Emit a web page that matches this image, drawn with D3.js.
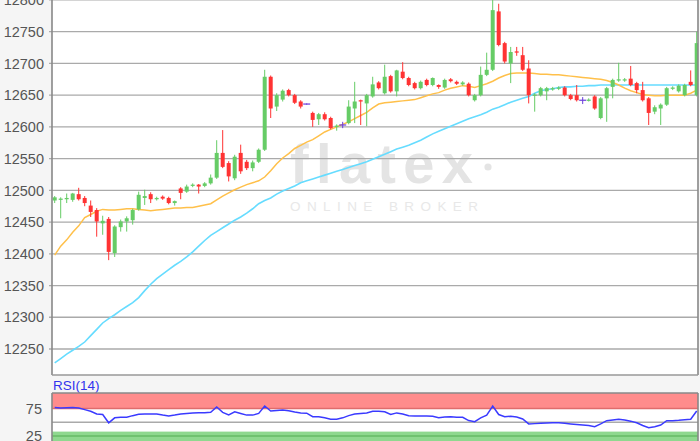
<!DOCTYPE html>
<html>
<head>
<meta charset="utf-8">
<script src="https://cdn.jsdelivr.net/npm/d3@7"></script>
<style>
  body { margin: 0; background: #f5f5f5; }
  svg { display: block; font-family: "Liberation Sans", Arial, sans-serif; }
</style>
</head>
<body>
<script>
// candle data (index = trading interval)
var opens  = [12484,12485,12486,12485,12494,12488,12476,12469,12448,12455,12401,12442,12451,12453,12470,12488,12494,12486,12490,12488,
              12480,12503,12498,12507,12509,12507,12511,12520,12559,12543,12519,12559,12545,12535,12545,12564,12679,12632,12643,12658,
              12650,12640,12636,12622,12612,12620,12614,12600,12603,12606,12629,12642,12637,12648,12670,12653,12680,12656,12687,12677,
              12669,12661,12674,12666,12666,12662,12675,12671,12667,12668,12642,12650,12682,12690,12782,12732,12700,12719,12713,12692,
              12649,12650,12656,12659,12660,12662,12650,12650,12642,12641,12648,12614,12645,12663,12673,12673,12676,12669,12658,12645,
              12624,12629,12635,12660,12656,12650,12671,12650];
var highs  = [12491,12489,12495,12496,12504,12491,12484,12472,12460,12458,12445,12454,12459,12471,12498,12501,12497,12490,12492,12490,
              12484,12505,12509,12511,12510,12513,12525,12579,12595,12546,12556,12572,12548,12547,12566,12690,12681,12653,12659,12660,
              12652,12642,12637,12624,12622,12623,12616,12604,12608,12642,12671,12643,12652,12679,12672,12698,12682,12690,12702,12679,
              12671,12673,12676,12678,12667,12676,12677,12673,12672,12670,12652,12695,12717,12800,12794,12734,12726,12726,12726,12705,
              12653,12663,12663,12663,12664,12664,12652,12666,12647,12645,12650,12647,12663,12676,12701,12677,12696,12671,12671,12647,
              12634,12637,12663,12664,12667,12668,12689,12750];
var lows   = [12480,12456,12480,12482,12484,12475,12458,12427,12430,12390,12395,12435,12435,12446,12468,12477,12480,12484,12485,12478,
              12476,12486,12496,12505,12495,12505,12509,12518,12535,12514,12516,12526,12532,12530,12543,12562,12614,12625,12640,12648,
              12636,12629,12635,12600,12603,12610,12596,12594,12598,12604,12606,12603,12601,12646,12659,12651,12654,12648,12675,12664,
              12659,12659,12664,12664,12660,12660,12670,12666,12665,12648,12640,12648,12680,12688,12727,12700,12669,12712,12688,12637,
              12624,12648,12642,12657,12658,12648,12642,12640,12636,12640,12627,12612,12608,12645,12671,12671,12664,12653,12640,12603,
              12620,12603,12633,12658,12654,12648,12664,12648];
var closes = [12489,12487,12488,12495,12486,12480,12466,12451,12452,12403,12443,12451,12456,12469,12493,12491,12486,12488,12487,12480,
              12483,12496,12506,12509,12506,12511,12520,12559,12537,12522,12553,12530,12535,12544,12564,12679,12629,12650,12657,12650,
              12638,12632,12636,12611,12620,12612,12598,12602,12603,12632,12640,12640,12650,12667,12661,12679,12656,12689,12677,12666,
              12661,12671,12666,12677,12663,12674,12672,12668,12670,12650,12650,12682,12690,12784,12729,12703,12718,12717,12690,12650,
              12651,12661,12661,12661,12662,12650,12644,12642,12642,12643,12629,12645,12661,12674,12675,12675,12666,12658,12642,12622,
              12631,12635,12661,12662,12665,12666,12666,12732];

// moving averages as drawn (orange = short, cyan = long)
var maShort = [12398,12412,12422,12434,12444,12457,12462,12467,12470,12469,12469,12470,12471,12471,12470,12469,12468,12469,12470,12471,
               12472,12472,12473,12473,12475,12477,12479,12485,12491,12496,12501,12505,12509,12512,12515,12521,12531,12542,12551,12558,
               12566,12571,12576,12580,12586,12592,12596,12600,12604,12608,12613,12618,12623,12630,12636,12638,12639,12640,12641,12642,
               12643,12646,12649,12652,12654,12658,12661,12663,12665,12664,12662,12665,12668,12672,12677,12681,12684,12685,12685,12685,
               12684,12683,12683,12682,12682,12681,12680,12679,12678,12677,12676,12675,12673,12670,12666,12661,12657,12654,12651,12650,
               12649,12649,12650,12650,12650,12650,12653,12658];
var maLong  = [12228,12235,12242,12248,12254,12261,12271,12281,12291,12298,12304,12311,12317,12323,12331,12342,12352,12361,12368,12375,
               12382,12388,12395,12403,12412,12421,12429,12435,12441,12447,12453,12458,12464,12471,12479,12484,12488,12494,12499,12503,
               12507,12512,12515,12518,12521,12524,12527,12530,12533,12536,12539,12542,12545,12549,12553,12557,12561,12565,12568,12571,
               12575,12579,12584,12589,12593,12597,12601,12605,12609,12613,12616,12619,12623,12628,12631,12635,12639,12642,12645,12648,
               12653,12657,12659,12660,12662,12663,12663,12664,12664,12665,12665,12666,12666,12666,12666,12666,12666,12666,12666,12666,
               12666,12666,12666,12666,12666,12666,12666,12666];

var rsi = [77,76,76.5,77,76,73,70,65,64,49,58,59,59,62,64.5,65,65,65,63,61.5,
           63,65,66,67,67.4,67.4,68,77.7,68,63.5,69,66,63,63,66,79.5,70.5,71.5,72.3,71,
           68.5,67,66.5,60,60,58,55.4,55.4,58,62,65,66,67,70,70,69,64,67,65,62,
           61.4,61.4,61.4,61,58.3,59.5,60,59,59,53,51,58,63,79.5,64,60,61,59.5,56,47,
           47.5,48,48.5,49,49,48,47,46,45,44,42,47,52.8,54,55.4,54,52,49,44,40,
           42,45,52.8,52.8,53.5,54.5,55.4,70.5];

var priceTicks = [12250,12300,12350,12400,12450,12500,12550,12600,12650,12700,12750,12800];
var rsiTicks = [25, 75];
var rsiGrid = [50];

var width = 700, height = 441;
var plot = {left: 52, right: 698, top: 0, bottom: 375};
var sub  = {top: 393, bottom: 441};

var svg = d3.select("body").append("svg")
  .attr("width", width)
  .attr("height", height);

var x  = d3.scalePoint().domain(d3.range(closes.length)).range([54.7, 696.7]);
var y  = d3.scaleLinear().domain([12250, 12750]).range([349, 31.7]);
var yR = d3.scaleLinear().domain([25, 75]).range([436, 408.5]);

var defs = svg.append("defs");
defs.append("clipPath").attr("id", "clipMain").append("rect")
  .attr("x", plot.left).attr("y", plot.top)
  .attr("width", plot.right - plot.left).attr("height", plot.bottom - plot.top);
defs.append("clipPath").attr("id", "clipSub").append("rect")
  .attr("x", plot.left).attr("y", sub.top)
  .attr("width", plot.right - plot.left).attr("height", sub.bottom - sub.top);

svg.append("rect").attr("width", width).attr("height", height).attr("fill", "#f5f5f5");
svg.append("rect")
  .attr("x", plot.left).attr("y", plot.top)
  .attr("width", plot.right - plot.left).attr("height", plot.bottom - plot.top)
  .attr("fill", "#fff");
svg.append("rect")
  .attr("x", plot.left).attr("y", sub.top)
  .attr("width", plot.right - plot.left).attr("height", sub.bottom - sub.top)
  .attr("fill", "#fff");

// watermark
var wm = svg.append("g").attr("fill", "#e4e4e4");
wm.append("text")
  .attr("x", 290).attr("y", 183)
  .attr("font-size", 56).attr("font-weight", "bold")
  .attr("textLength", 183).attr("lengthAdjust", "spacing")
  .text("flatex");
wm.append("circle").attr("cx", 488).attr("cy", 167).attr("r", 3.6);
wm.append("text")
  .attr("x", 290).attr("y", 211)
  .attr("font-size", 13.5)
  .attr("textLength", 188).attr("lengthAdjust", "spacing")
  .attr("fill", "#e8e8e8")
  .text("ONLINE BROKER");

// price grid + labels
svg.append("g").selectAll("line")
  .data(priceTicks)
  .enter().append("line")
  .attr("x1", plot.left - 3).attr("x2", plot.right)
  .attr("y1", d => y(d)).attr("y2", d => y(d))
  .attr("stroke", "#aaa").attr("stroke-width", 1.3);

svg.append("g").selectAll("text")
  .data(priceTicks)
  .enter().append("text")
  .attr("x", 44).attr("y", d => y(d))
  .attr("dy", "0.36em")
  .attr("text-anchor", "end")
  .attr("font-size", 14.5)
  .attr("fill", "#555")
  .text(d => d);

// moving averages
var main = svg.append("g").attr("clip-path", "url(#clipMain)");

var maLine = function(arr) {
  return d3.line().x((d, i) => x(i)).y(d => y(d))(arr);
};
main.append("path").attr("d", maLine(maLong))
  .attr("fill", "none").attr("stroke", "#66dcff").attr("stroke-width", 1.6);
main.append("path").attr("d", maLine(maShort))
  .attr("fill", "none").attr("stroke", "#ffc04a").attr("stroke-width", 1.5);

// candles
var candleColor = function(i) {
  if (opens[i] == closes[i]) return "#6a3ddb";
  return closes[i] > opens[i] ? "#66cc66" : "#ff3333";
};
var candle = main.selectAll(".candle")
  .data(d3.range(closes.length))
  .enter().append("g")
  .attr("class", "candle");

candle.append("line")
  .attr("x1", i => x(i)).attr("x2", i => x(i))
  .attr("y1", i => y(highs[i])).attr("y2", i => y(lows[i]))
  .attr("stroke", candleColor).attr("stroke-width", 1);

candle.append("rect")
  .attr("x", i => x(i) - (opens[i] == closes[i] ? 3.5 : 2))
  .attr("width", i => opens[i] == closes[i] ? 7 : 4)
  .attr("y", i => y(Math.max(opens[i], closes[i])) - (opens[i] == closes[i] ? 0.6 : 0))
  .attr("height", i => Math.max(1.2, y(Math.min(opens[i], closes[i])) - y(Math.max(opens[i], closes[i]))))
  .attr("fill", candleColor);

// frame of main panel
svg.append("line").attr("x1", plot.left).attr("x2", plot.left)
  .attr("y1", plot.top).attr("y2", plot.bottom)
  .attr("stroke", "#888").attr("stroke-width", 1.6);
svg.append("line").attr("x1", plot.right).attr("x2", plot.right)
  .attr("y1", plot.top).attr("y2", plot.bottom)
  .attr("stroke", "#888").attr("stroke-width", 1.6);
svg.append("line").attr("x1", plot.left).attr("x2", plot.right)
  .attr("y1", plot.bottom).attr("y2", plot.bottom)
  .attr("stroke", "#999").attr("stroke-width", 1.4);

// RSI panel
svg.append("text")
  .attr("x", 53).attr("y", 390)
  .attr("font-size", 13.5)
  .attr("fill", "#3333ee")
  .text("RSI(14)");

var subG = svg.append("g").attr("clip-path", "url(#clipSub)");
subG.append("rect")
  .attr("x", plot.left).attr("width", plot.right - plot.left)
  .attr("y", sub.top).attr("height", yR(75) - sub.top)
  .attr("fill", "#ff8c8c");
subG.append("rect")
  .attr("x", plot.left).attr("width", plot.right - plot.left)
  .attr("y", yR(33)).attr("height", sub.bottom - yR(33))
  .attr("fill", "#8fd88f");
subG.append("line")
  .attr("x1", plot.left).attr("x2", plot.right)
  .attr("y1", yR(75)).attr("y2", yR(75))
  .attr("stroke", "#e06c6c").attr("stroke-width", 1.3);
subG.append("line")
  .attr("x1", plot.left).attr("x2", plot.right)
  .attr("y1", yR(25)).attr("y2", yR(25))
  .attr("stroke", "#66bb66").attr("stroke-width", 1.3);
subG.selectAll(".rg")
  .data(rsiGrid)
  .enter().append("line")
  .attr("x1", plot.left).attr("x2", plot.right)
  .attr("y1", d => yR(d)).attr("y2", d => yR(d))
  .attr("stroke", "#aaa").attr("stroke-width", 1.3);

subG.append("path")
  .attr("d", d3.line().x((d, i) => x(i)).y(d => yR(d))(rsi))
  .attr("fill", "none").attr("stroke", "#3a3aff").attr("stroke-width", 1.5);

svg.append("g").selectAll("text")
  .data(rsiTicks)
  .enter().append("text")
  .attr("x", 42).attr("y", d => yR(d))
  .attr("dy", "0.36em")
  .attr("text-anchor", "end")
  .attr("font-size", 14.5)
  .attr("fill", "#555")
  .text(d => d);

svg.append("line").attr("x1", plot.left).attr("x2", plot.right)
  .attr("y1", sub.top).attr("y2", sub.top)
  .attr("stroke", "#888").attr("stroke-width", 1.6);
svg.append("line").attr("x1", plot.left).attr("x2", plot.left)
  .attr("y1", sub.top).attr("y2", sub.bottom)
  .attr("stroke", "#888").attr("stroke-width", 1.6);
svg.append("line").attr("x1", plot.right).attr("x2", plot.right)
  .attr("y1", sub.top).attr("y2", sub.bottom)
  .attr("stroke", "#888").attr("stroke-width", 1.6);
</script>
</body>
</html>
